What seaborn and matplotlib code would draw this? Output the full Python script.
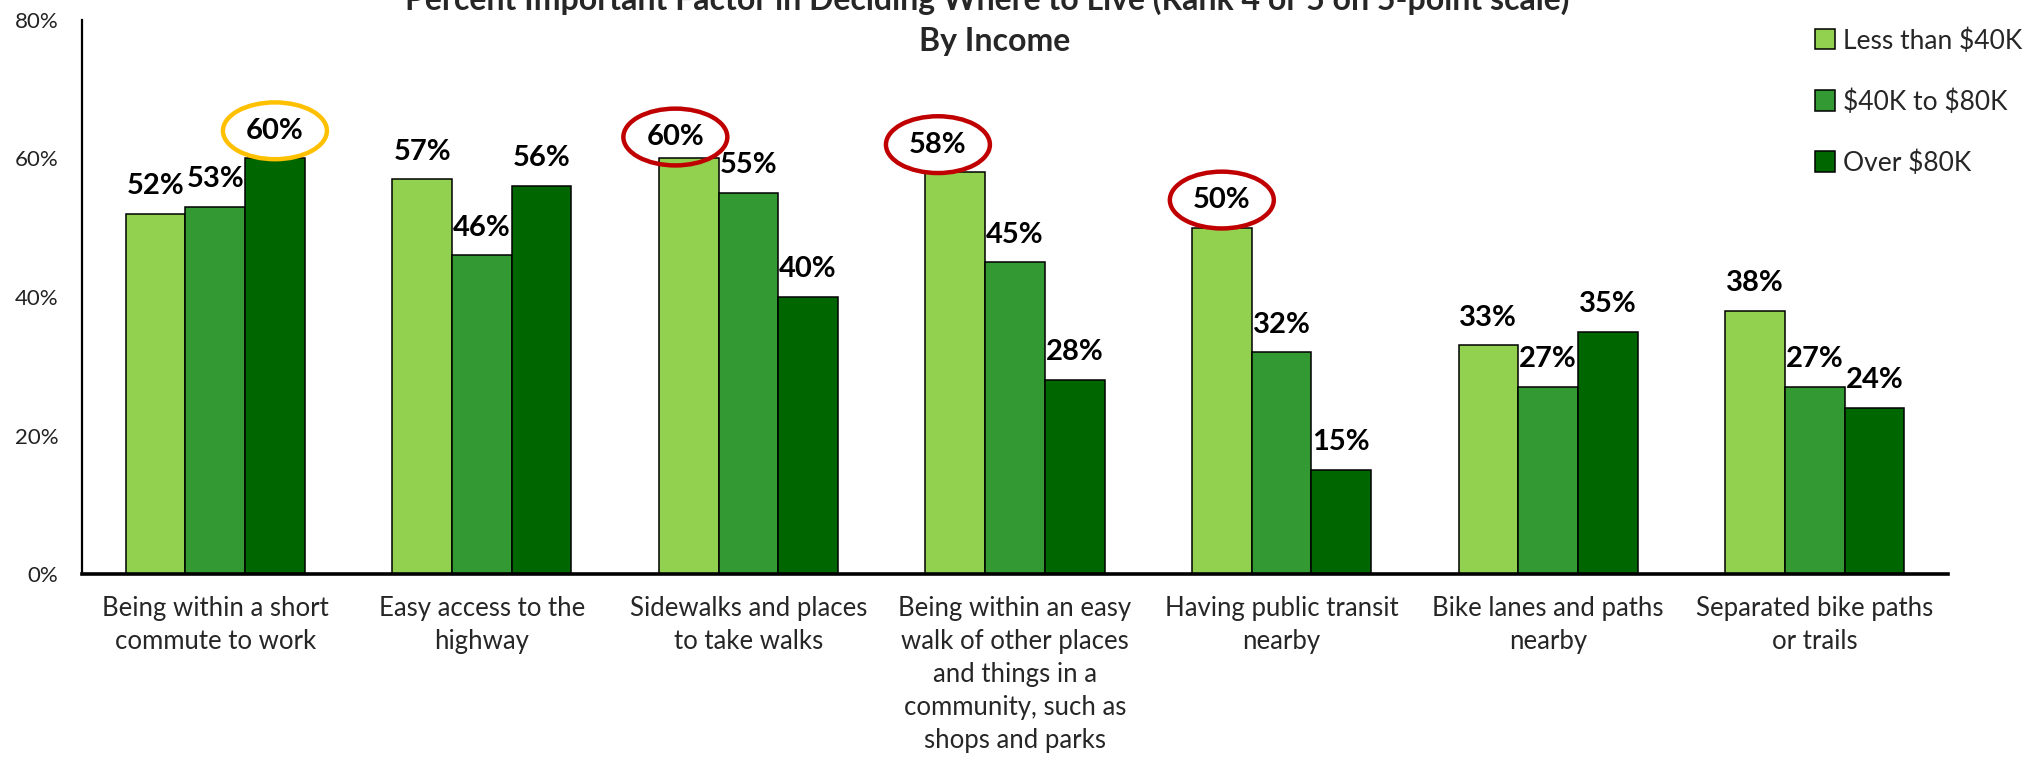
import matplotlib
matplotlib.use("Agg")
import matplotlib.pyplot as plt
from matplotlib.patches import Ellipse
import seaborn as sns
import pandas as pd

# Survey data: share rating each factor 4 or 5 on a 5-point scale
categories = [
    "Being within a short\ncommute to work",
    "Easy access to the\nhighway",
    "Sidewalks and places\nto take walks",
    "Being within an easy\nwalk of other places\nand things in a\ncommunity, such as\nshops and parks",
    "Having public transit\nnearby",
    "Bike lanes and paths\nnearby",
    "Separated bike paths\nor trails",
]
income_groups = ["Less than $40K", "$40K to $80K", "Over $80K"]
less_40k = [52, 57, 60, 58, 50, 33, 38]
from_40k_to_80k = [53, 46, 55, 45, 32, 27, 27]
over_80k = [60, 56, 40, 28, 15, 35, 24]
y_ticks = [0, 20, 40, 60, 80]

# Circled values: (category index, income index, ring colour)
highlights = [(0, 2, "#FFC000"), (2, 0, "#C00000"), (3, 0, "#C00000"), (4, 0, "#C00000")]

colors = ["#92D050", "#339933", "#006600"]

rows = []
for name, vals in zip(income_groups, [less_40k, from_40k_to_80k, over_80k]):
    for cat, v in zip(categories, vals):
        rows.append({"category": cat, "income": name, "value": v})
df = pd.DataFrame(rows)

sns.set_style("white")
plt.rcParams["font.family"] = ["Lato", "DejaVu Sans"]
plt.rcParams["text.parse_math"] = False

fig = plt.figure(figsize=(20.43, 7.63), dpi=100)
ax = fig.add_axes([0.0401, 0.2477, 0.9134, 0.7261])

sns.barplot(
    data=df, x="category", y="value", hue="income",
    order=categories, hue_order=income_groups, palette=colors,
    width=0.672, saturation=1, edgecolor="black", linewidth=1.1,
    errorbar=None, ax=ax, legend=True,
)

ax.set_xlim(-0.5, 6.5)
ax.set_ylim(0, 80)
ax.set_yticks(y_ticks)
ax.set_yticklabels([f"{t}%" for t in y_ticks])
ax.set_xlabel("")
ax.set_ylabel("")
ax.tick_params(axis="y", length=0, pad=17, labelsize=16, labelcolor="#222222")
ax.tick_params(axis="x", length=0, pad=16, labelsize=18.5)
for lbl in ax.get_xticklabels():
    lbl.set_linespacing(1.4)

for side in ["top", "right"]:
    ax.spines[side].set_visible(False)
ax.spines["left"].set_linewidth(1.6)
ax.spines["bottom"].set_linewidth(2.6)
ax.spines["left"].set_color("black")
ax.spines["bottom"].set_color("black")

# Value labels above each bar
label_gap = 4.0
nudge = {(2, 0): (-0.05, -0.9), (3, 0): (-0.065, 0.0)}
label_pos = {}
for hi, container in enumerate(ax.containers):
    for ci, bar in enumerate(container):
        h = bar.get_height()
        x = bar.get_x() + bar.get_width() / 2
        dx, dy = nudge.get((ci, hi), (0, 0))
        lx, ly = x + dx, h + label_gap + dy
        label_pos[(ci, hi)] = (lx, ly)
        ax.text(lx, ly, f"{h:.0f}%", ha="center", va="center",
                fontsize=21, fontweight="bold", color="black")

for ci, hi, col in highlights:
    lx, ly = label_pos[(ci, hi)]
    ax.add_patch(Ellipse((lx, ly), width=0.39, height=8.2, fill=False,
                         edgecolor=col, linewidth=3.2, clip_on=False, zorder=5))

# Legend
handles, labels = ax.get_legend_handles_labels()
ax.legend(handles, labels, loc="upper left", bbox_to_anchor=(1815 / 2043, 1 - 28 / 763),
          bbox_transform=fig.transFigure, frameon=False, fontsize=19,
          handlelength=0.75, handleheight=0.8, handletextpad=0.3,
          labelspacing=1.35, borderaxespad=0, borderpad=0)

# Title
fig.text(987 / 2043, 1 - 10 / 763,
         "Percent Important Factor in Deciding Where to Live (Rank 4 or 5 on 5-point scale)",
         ha="center", va="baseline", fontsize=23, fontweight="bold")
fig.text(995 / 2043, 1 - 51 / 763, "By Income",
         ha="center", va="baseline", fontsize=23, fontweight="bold")

fig.savefig("out.png", dpi=100)
